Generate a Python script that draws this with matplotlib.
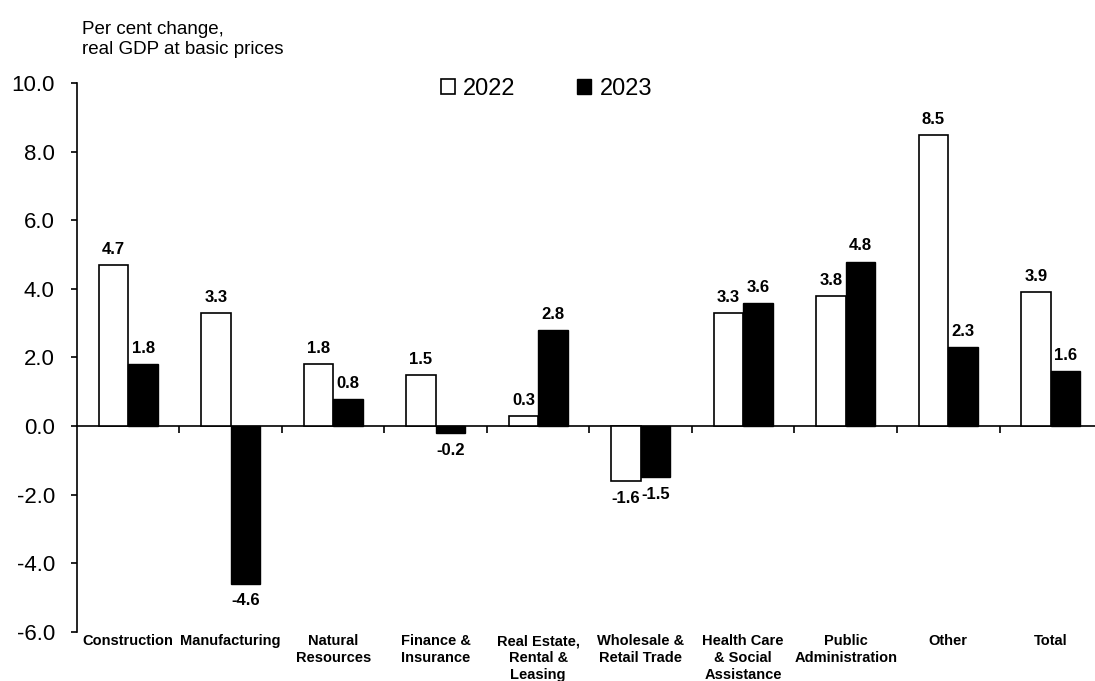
import matplotlib
matplotlib.use('Agg')
import matplotlib.pyplot as plt
from matplotlib.patches import Patch
from matplotlib.ticker import FormatStrFormatter, MultipleLocator, FixedLocator, NullLocator
import numpy as np

plt.rcParams['font.family'] = ['Liberation Sans', 'DejaVu Sans']

# %% data: real GDP growth by industry, per cent
sectors = ['Construction', 'Manufacturing', 'Natural\nResources', 'Finance &\nInsurance',
           'Real Estate,\nRental &\nLeasing', 'Wholesale &\nRetail Trade',
           'Health Care\n& Social\nAssistance', 'Public\nAdministration', 'Other', 'Total']
gdp_2022 = [4.7, 3.3, 1.8, 1.5, 0.3, -1.6, 3.3, 3.8, 8.5, 3.9]
gdp_2023 = [1.8, -4.6, 0.8, -0.2, 2.8, -1.5, 3.6, 4.8, 2.3, 1.6]
years = ['2022', '2023']

# %%
fig = plt.figure(figsize=(10.95, 6.81), dpi=100)
ax = fig.add_axes([0.0703, 0.0724, 0.9361, 0.8053])

x = np.arange(len(sectors))
w = 0.29

bars22 = ax.bar(x - w/2, gdp_2022, w, color='white', edgecolor='black', linewidth=1.2, zorder=3)
bars23 = ax.bar(x + w/2, gdp_2023, w, color='black', edgecolor='black', linewidth=1.0, zorder=3)

# value labels above / below each bar
for bars, vals in [(bars22, gdp_2022), (bars23, gdp_2023)]:
    for b, v in zip(bars, vals):
        xc = b.get_x() + b.get_width()/2
        if v >= 0:
            ax.annotate('%.1f' % v, (xc, v), xytext=(0, 8), textcoords='offset points',
                        ha='center', va='baseline', fontsize=12, fontweight='bold')
        else:
            ax.annotate('%.1f' % v, (xc, v), xytext=(0, -7), textcoords='offset points',
                        ha='center', va='top', fontsize=12, fontweight='bold')

ax.set_xlim(-0.5, len(sectors) - 0.5)
ax.set_ylim(-6, 10)

ax.yaxis.set_major_locator(MultipleLocator(2))
ax.yaxis.set_major_formatter(FormatStrFormatter('%.1f'))
ax.tick_params(axis='y', direction='out', length=4, width=1.2, pad=12, labelsize=16)

# category axis sits on the zero line, ticks between groups
ax.spines['bottom'].set_position(('data', 0))
ax.spines['right'].set_visible(False)
ax.spines['top'].set_visible(False)
ax.spines['left'].set_linewidth(1.2)
ax.spines['bottom'].set_linewidth(1.2)
ax.xaxis.set_major_locator(FixedLocator(x[:-1] + 0.5))
ax.xaxis.set_minor_locator(NullLocator())
ax.tick_params(axis='x', direction='out', length=5, width=1.2, labelbottom=False)

for xi, name in zip(x, sectors):
    ax.annotate(name, (xi, 0), xycoords=ax.get_xaxis_transform(), xytext=(0, -2),
                textcoords='offset points', ha='center', va='top', fontsize=10.5,
                fontweight='bold', linespacing=1.25, annotation_clip=False)

handles = [Patch(facecolor='white', edgecolor='black', linewidth=1.2, label=years[0]),
           Patch(facecolor='black', edgecolor='black', label=years[1])]
ax.legend(handles=handles, loc='center', bbox_to_anchor=(0.458, 0.99), ncol=2,
          frameon=False, fontsize=17, handlelength=0.6, handleheight=0.6,
          handletextpad=0.35, columnspacing=2.6)

fig.text(0.0749, 0.969, 'Per cent change,\nreal GDP at basic prices', ha='left', va='top',
         fontsize=13.5, linespacing=1.2)

fig.savefig('out.png', dpi=100)
